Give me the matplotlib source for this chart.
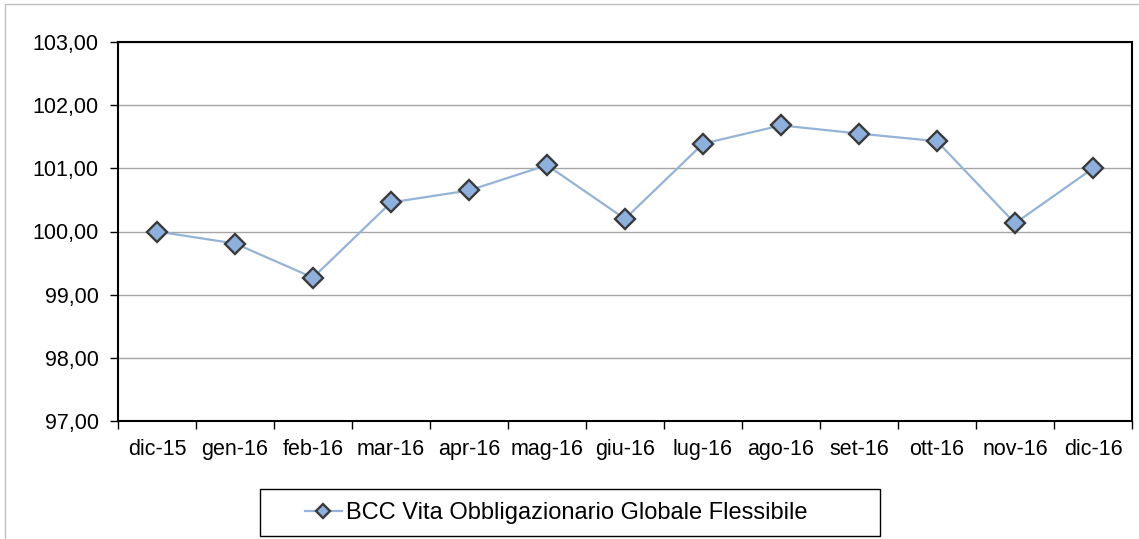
import matplotlib.pyplot as plt
from matplotlib.patches import Rectangle
from matplotlib.ticker import FuncFormatter, FixedLocator

plt.rcParams['font.family'] = ['Liberation Sans', 'DejaVu Sans']

# data
months = ['dic-15', 'gen-16', 'feb-16', 'mar-16', 'apr-16', 'mag-16', 'giu-16',
          'lug-16', 'ago-16', 'set-16', 'ott-16', 'nov-16', 'dic-16']
values = [100.00, 99.81, 99.27, 100.46, 100.65, 101.05, 100.20,
          101.39, 101.68, 101.55, 101.43, 100.13, 101.00]
series_name = 'BCC Vita Obbligazionario Globale Flessibile'

fig = plt.figure(figsize=(11.39, 5.39), dpi=100)
ax = fig.add_axes([118 / 1139, 118 / 539, 1014 / 1139, 379 / 539])

x = list(range(len(months)))
line, = ax.plot(x, values, color='#95B3D7', lw=1.6, marker='D', markersize=10.5,
                markerfacecolor='#8DB0DC', markeredgecolor='#3A3A3A',
                markeredgewidth=1.7, label=series_name, zorder=3)

ax.set_ylim(97, 103)
ax.set_yticks([97, 98, 99, 100, 101, 102, 103])
ax.yaxis.set_major_formatter(FuncFormatter(lambda v, p: f'{v:.2f}'.replace('.', ',')))
ax.set_xlim(-0.5, len(months) - 0.5)
ax.set_xticks(x)
ax.set_xticklabels(months)
ax.xaxis.set_minor_locator(FixedLocator([i - 0.5 for i in range(len(months) + 1)]))
ax.tick_params(axis='x', which='major', length=0, pad=13, labelsize=15.5)
ax.tick_params(axis='x', which='minor', length=6, width=1, direction='out')
ax.tick_params(axis='y', length=6, width=1, direction='out', pad=8, labelsize=15.5)
ax.grid(axis='y', color='#A6A6A6', lw=1)
ax.set_axisbelow(True)
for s in ax.spines.values():
    s.set_linewidth(1.5)
    s.set_color('black')

# outer chart border (light gray)
fig.patches.append(Rectangle((5 / 1139, -0.1), 1.2, (535 / 539) + 0.1,
                             transform=fig.transFigure, fill=False,
                             edgecolor='#BFBFBF', lw=1))

# legend box
fig.patches.append(Rectangle((260 / 1139, 3 / 539), 620 / 1139, 47 / 539,
                             transform=fig.transFigure, fill=False,
                             edgecolor='black', lw=1))
fig.legend(handles=[line], loc='center', bbox_to_anchor=(556 / 1139, 26 / 539),
           frameon=False, fontsize=17, handlelength=1.6, handletextpad=0.15,
           markerscale=0.7)

fig.savefig('out.png', dpi=100)
